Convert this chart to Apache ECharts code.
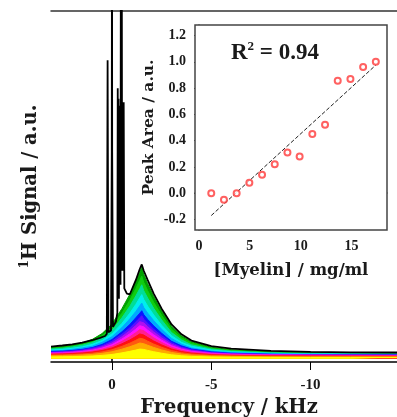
<!DOCTYPE html>
<html>

<head>
    <meta http-equiv="Content-Type" content="text/html; charset=utf-8" />
    <title>Myelin NMR</title>
    <script src="https://cdn.jsdelivr.net/npm/echarts@6/dist/echarts.min.js"></script>
    <style>
        html, body { margin: 0; padding: 0; background: #fff; }
        #div1 { width: 397px; height: 417px; }
    </style>
</head>

<body>
    <div id="div1"></div>
    <script type="text/javascript">
        // spectra, frequency in kHz (axis runs right to left)
        var freqGrid = [3.07, 2.5, 2, 1.5, 1, 0.5, 0, -0.5, -0.9, -1.2, -1.4, -1.5, -1.6, -1.8, -2.1, -2.5, -3, -3.5, -4, -5, -6, -8, -10, -12, -14.35];

        var green1 = [4.1, 4.4, 4.8, 5.4, 6.4, 8.1, 10.8, 15.2, 19.3, 22.9, 25.6, 27.0, 25.0, 22.3, 18.7, 14.6, 10.2, 7.5, 5.8, 4.2, 3.5, 2.9, 2.7, 2.6, 2.55];
        var green2 = [3.9, 4.2, 4.5, 5.1, 6.0, 7.5, 9.9, 13.9, 17.6, 20.9, 23.3, 24.5, 22.7, 20.3, 17.0, 13.3, 9.3, 6.9, 5.4, 3.9, 3.3, 2.8, 2.6, 2.5, 2.4];
        var teal = [3.7, 3.9, 4.3, 4.8, 5.5, 6.9, 9.0, 12.6, 15.9, 18.8, 20.9, 22.0, 20.3, 18.2, 15.3, 12.0, 8.4, 6.3, 4.9, 3.7, 3.1, 2.6, 2.45, 2.4, 2.3];
        var cyan = [3.4, 3.6, 3.9, 4.3, 5.0, 6.1, 8.0, 11.0, 13.9, 16.4, 18.3, 19.2, 17.8, 15.9, 13.4, 10.5, 7.5, 5.6, 4.5, 3.4, 2.9, 2.5, 2.3, 2.25, 2.2];
        var lightBlue = [3.2, 3.3, 3.6, 4.0, 4.5, 5.6, 7.2, 9.8, 12.3, 14.4, 16.0, 16.8, 15.5, 13.9, 11.8, 9.3, 6.7, 5.1, 4.0, 3.1, 2.7, 2.3, 2.2, 2.15, 2.1];
        var blue = [3.0, 3.1, 3.3, 3.6, 4.1, 5.0, 6.4, 8.6, 10.7, 12.6, 13.9, 14.6, 13.5, 12.1, 10.3, 8.2, 5.9, 4.6, 3.7, 2.9, 2.5, 2.2, 2.1, 2.05, 2.0];
        var indigo = [2.8, 2.9, 3.1, 3.4, 3.9, 4.6, 5.9, 7.9, 9.7, 11.4, 12.6, 13.2, 12.2, 11.0, 9.3, 7.5, 5.5, 4.2, 3.5, 2.7, 2.4, 2.15, 2.05, 2.0, 1.95];
        var purple = [2.65, 2.8, 2.95, 3.2, 3.6, 4.3, 5.4, 7.2, 8.9, 10.4, 11.5, 12.0, 11.15, 10.05, 8.55, 6.85, 5.05, 3.95, 3.25, 2.6, 2.3, 2.07, 1.98, 1.94, 1.91];
        var magenta = [2.5, 2.6, 2.76, 3.0, 3.34, 3.96, 4.93, 6.53, 8.03, 9.36, 10.33, 10.8, 10.03, 9.06, 7.73, 6.23, 4.63, 3.66, 3.04, 2.46, 2.21, 1.99, 1.92, 1.88, 1.85];
        var pink = [2.35, 2.45, 2.58, 2.78, 3.09, 3.63, 4.48, 5.88, 7.19, 8.36, 9.21, 9.6, 8.91, 8.06, 6.89, 5.58, 4.18, 3.33, 2.79, 2.28, 2.06, 1.87, 1.8, 1.77, 1.75];
        var red = [2.19, 2.28, 2.39, 2.56, 2.82, 3.28, 4.0, 5.18, 6.29, 7.27, 7.99, 8.3, 7.69, 6.97, 5.99, 4.88, 3.7, 2.98, 2.52, 2.09, 1.9, 1.74, 1.69, 1.66, 1.64];
        var redOrange = [1.99, 2.06, 2.16, 2.29, 2.51, 2.88, 3.48, 4.45, 5.37, 6.18, 6.77, 7.0, 6.52, 5.93, 5.12, 4.2, 3.23, 2.63, 2.26, 1.91, 1.75, 1.62, 1.57, 1.55, 1.53];
        var orange = [1.78, 1.84, 1.91, 2.01, 2.17, 2.46, 2.91, 3.65, 4.35, 4.96, 5.41, 5.6, 5.21, 4.76, 4.15, 3.45, 2.71, 2.26, 1.97, 1.71, 1.59, 1.49, 1.45, 1.44, 1.42];
        var yellow = [1.46, 1.5, 1.54, 1.6, 1.7, 1.88, 2.15, 2.6, 3.03, 3.4, 3.68, 3.8, 3.58, 3.3, 2.93, 2.5, 2.05, 1.78, 1.6, 1.44, 1.37, 1.31, 1.28, 1.27, 1.27];

        // black spectrum with the narrow peaks near 0 kHz
        var blackFreq = [3.07, 2.5, 2, 1.5, 1, 0.6, 0.35, 0.26, 0.22, 0.18, 0.05, 0.01, 0, -0.01, -0.05, -0.2, -0.27, -0.29, -0.31, -0.33, -0.35, -0.37, -0.39, -0.41, -0.43, -0.45, -0.47, -0.49, -0.51, -0.54, -0.56, -0.59, -0.62, -0.75, -0.9, -1.2, -1.4, -1.5, -1.6, -1.8, -2.1, -2.5, -3, -3.5, -4, -5, -6, -8, -10, -12, -14.35];
        var blackSignal = [4.4, 4.7, 5.0, 5.5, 6.2, 6.9, 7.4, 8.0, 86, 8.5, 9.0, 60, 140, 60, 10.0, 11.5, 14, 78, 18, 75, 18, 72, 22, 73, 22, 140, 26, 140, 30, 72, 26, 74, 21, 19.5, 19.3, 23.3, 26.5, 27.8, 26.0, 23.3, 19.5, 15.2, 10.7, 7.9, 6.1, 4.5, 3.8, 3.15, 2.9, 2.75, 2.7];

        // inset: peak area vs myelin concentration
        var myelin = [1.2, 2.45, 3.7, 4.95, 6.2, 7.45, 8.7, 9.9, 11.15, 12.4, 13.65, 14.9, 16.15, 17.4];
        var peakArea = [0.0, -0.05, 0.0, 0.08, 0.14, 0.22, 0.31, 0.28, 0.45, 0.52, 0.855, 0.87, 0.96, 1.0];
        var fitX = [1.2, 17.4];
        var fitY = [-0.17, 0.975];

        var freqTicks = [0, -5, -10];
        var myelinTicks = [0, 5, 10, 15];
        var areaTicks = [-0.2, 0, 0.2, 0.4, 0.6, 0.8, 1.0, 1.2];

        var spectra = [
            { data: green1, color: '#00a000' },
            { data: green2, color: '#10cc10' },
            { data: teal, color: '#00dd99' },
            { data: cyan, color: '#00eeee' },
            { data: lightBlue, color: '#00a8ff' },
            { data: blue, color: '#0a14ff' },
            { data: indigo, color: '#5a10ff' },
            { data: purple, color: '#b010f0' },
            { data: magenta, color: '#ff10ff' },
            { data: pink, color: '#ff2090' },
            { data: red, color: '#ff1010' },
            { data: redOrange, color: '#ff5a10' },
            { data: orange, color: '#ffaa00' },
            { data: yellow, color: '#ffff00' }
        ];

        var serif = 'Liberation Serif';
        var wide = 'DejaVu Serif';
        var txt = '#1a1a1a';

        var myChart = echarts.init(document.getElementById('div1'), null, { renderer: 'canvas' });

        var series = [];
        for (var i = 0; i < spectra.length; i++) {
            var pts = [];
            for (var j = 0; j < freqGrid.length; j++) {
                pts.push([freqGrid[j], spectra[i].data[j]]);
            }
            series.push({
                type: 'line',
                xAxisIndex: 0,
                yAxisIndex: 0,
                data: pts,
                showSymbol: false,
                symbol: 'none',
                silent: true,
                lineStyle: { color: spectra[i].color, width: 1 },
                areaStyle: { color: spectra[i].color, opacity: 1, origin: 0.9 },
                z: 2
            });
        }

        var blackPts = [];
        for (var k = 0; k < blackFreq.length; k++) {
            blackPts.push([blackFreq[k], blackSignal[k]]);
        }
        series.push({
            type: 'line',
            xAxisIndex: 0,
            yAxisIndex: 0,
            data: blackPts,
            showSymbol: false,
            symbol: 'none',
            silent: true,
            lineStyle: { color: '#000', width: 1.8 },
            z: 3
        });

        var scatterPts = [];
        for (var m = 0; m < myelin.length; m++) {
            scatterPts.push([myelin[m], peakArea[m]]);
        }
        series.push({
            type: 'line',
            xAxisIndex: 2,
            yAxisIndex: 1,
            data: [[fitX[0], fitY[0]], [fitX[1], fitY[1]]],
            showSymbol: false,
            symbol: 'none',
            silent: true,
            lineStyle: { color: '#222', width: 1, type: [4, 2] },
            z: 5
        });
        series.push({
            type: 'scatter',
            xAxisIndex: 2,
            yAxisIndex: 1,
            data: scatterPts,
            symbol: 'emptyCircle',
            symbolSize: 6,
            silent: true,
            itemStyle: { color: '#ff3a3a', borderWidth: 1 },
            z: 6
        });

        var option = {
            animation: false,
            backgroundColor: '#fff',
            grid: [
                { left: 51, right: 0, top: 11, bottom: 55, outerBoundsMode: 'none' },
                { left: 195, top: 25, width: 192, height: 205, outerBoundsMode: 'none', show: true, backgroundColor: '#fff', borderColor: '#444', borderWidth: 1.5, z: 4 }
            ],
            xAxis: [{
                gridIndex: 0,
                type: 'value',
                inverse: true,
                min: -14.35,
                max: 3.07,
                name: 'Frequency / kHz',
                nameLocation: 'middle',
                nameGap: 32,
                nameTextStyle: { fontFamily: wide, fontWeight: 'bold', fontSize: 19.5, color: txt, padding: [0, 0, 0, 10] },
                axisLine: { show: true, lineStyle: { color: '#000', width: 1.5 } },
                axisTick: { show: true, customValues: freqTicks, length: 8, lineStyle: { color: '#000', width: 1 } },
                axisLabel: { customValues: freqTicks, fontFamily: serif, fontWeight: 'bold', fontSize: 15, color: txt, margin: 16 },
                splitLine: { show: false }
            }, {
                gridIndex: 0,
                type: 'value',
                position: 'top',
                inverse: true,
                min: -14.35,
                max: 3.07,
                axisLine: { show: true, lineStyle: { color: '#333', width: 1.5 } },
                axisTick: { show: false },
                axisLabel: { show: false },
                splitLine: { show: false }
            }, {
                gridIndex: 1,
                type: 'value',
                min: -0.4,
                max: 18.5,
                name: '[Myelin] / mg/ml',
                nameLocation: 'middle',
                nameGap: 32,
                nameTextStyle: { fontFamily: wide, fontWeight: 'bold', fontSize: 16.5, color: txt },
                axisLine: { show: true, lineStyle: { color: '#444', width: 1.5 } },
                axisTick: { show: true, customValues: myelinTicks, length: 5, lineStyle: { color: '#444' } },
                axisLabel: { customValues: myelinTicks, fontFamily: serif, fontWeight: 'bold', fontSize: 14, color: txt, margin: 9 },
                splitLine: { show: false }
            }],
            yAxis: [{
                gridIndex: 0,
                type: 'value',
                min: 0,
                max: 100,
                name: '{s|1}{m|H Signal / a.u.}',
                nameLocation: 'middle',
                nameGap: 8,
                nameTextStyle: {
                    color: txt,
                    rich: {
                        s: { fontFamily: wide, fontWeight: 'bold', fontSize: 12, color: txt, verticalAlign: 'top', lineHeight: 12 },
                        m: { fontFamily: wide, fontWeight: 'bold', fontSize: 19.5, color: txt, lineHeight: 24 }
                    }
                },
                axisLine: { show: true, lineStyle: { color: '#000', width: 1.5 } },
                axisTick: { show: false },
                axisLabel: { show: false },
                splitLine: { show: false }
            }, {
                gridIndex: 1,
                type: 'value',
                min: -0.28,
                max: 1.28,
                name: 'Peak Area / a.u.',
                nameLocation: 'middle',
                nameGap: 38,
                nameTextStyle: { fontFamily: wide, fontWeight: 'bold', fontSize: 15.5, color: txt },
                axisLine: { show: true, lineStyle: { color: '#444', width: 1.5 } },
                axisTick: { show: true, customValues: areaTicks, length: 5, lineStyle: { color: '#444' } },
                axisLabel: {
                    customValues: areaTicks,
                    fontFamily: serif, fontWeight: 'bold', fontSize: 14, color: txt, margin: 9,
                    formatter: function (v) { return v.toFixed(1); }
                },
                splitLine: { show: false }
            }],
            graphic: [{
                type: 'text',
                left: 231,
                top: 40,
                z: 10,
                style: {
                    text: '{b|R}{s|2}{b| = 0.94}',
                    rich: {
                        b: { fontFamily: serif, fontWeight: 'bold', fontSize: 23, fill: txt, lineHeight: 26 },
                        s: { fontFamily: serif, fontWeight: 'bold', fontSize: 13, fill: txt, verticalAlign: 'top', lineHeight: 14 }
                    }
                }
            }],
            series: series
        };

        myChart.setOption(option);
    </script>
</body>

</html>
